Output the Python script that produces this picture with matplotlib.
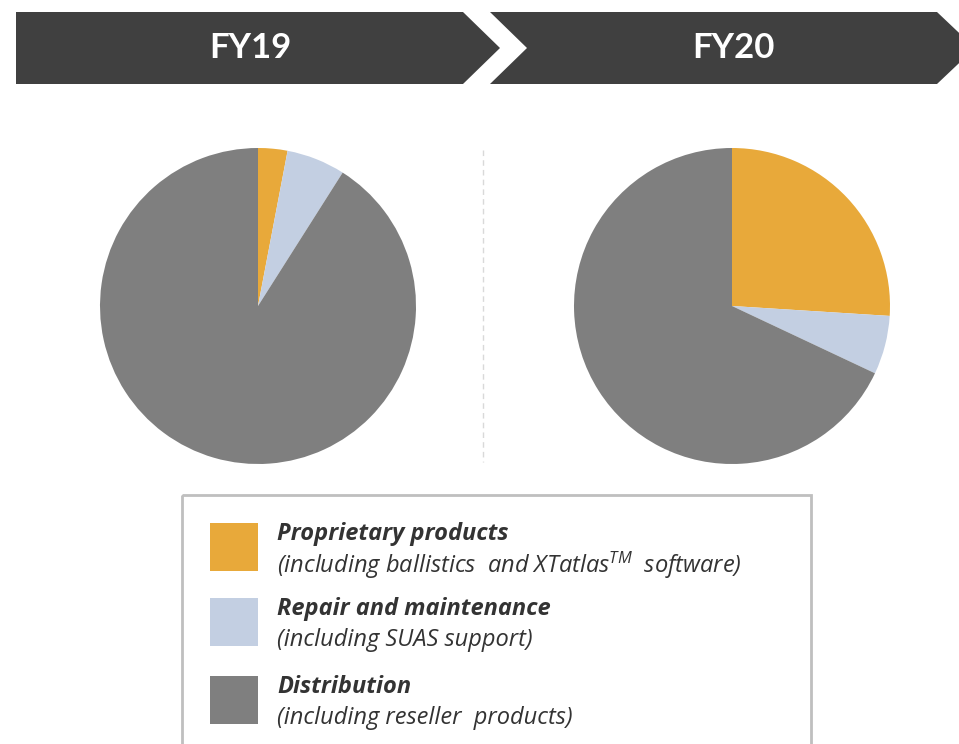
import matplotlib
matplotlib.use("Agg")
import matplotlib.pyplot as plt
from matplotlib.patches import Polygon, Rectangle

plt.rcParams['font.family'] = ['Lato', 'DejaVu Sans']
plt.rcParams['mathtext.fontset'] = 'custom'
plt.rcParams['mathtext.rm'] = 'Open Sans:italic'
plt.rcParams['mathtext.it'] = 'Open Sans:italic'

# data (share of revenue, %)
years = ["FY19", "FY20"]
segments = ["Proprietary products", "Repair and maintenance", "Distribution"]
notes = ["(including ballistics  and XTatlas$^{TM}$  software)",
         "(including SUAS support)",
         "(including reseller  products)"]
fy19 = [3, 6, 91]
fy20 = [26, 6, 68]
colors = ["#E8A93A", "#C3CFE2", "#7F7F7F"]

W, H = 959, 744
fig = plt.figure(figsize=(W / 100, H / 100), dpi=100)

# background axes in pixel coordinates
bg = fig.add_axes([0, 0, 1, 1])
bg.set_xlim(0, W)
bg.set_ylim(H, 0)
bg.axis("off")

# header chevrons
dark = "#404040"
bg.add_patch(Polygon([(16, 12), (463, 12), (500, 48), (463, 84), (16, 84)],
                     closed=True, color=dark, lw=0))
bg.add_patch(Polygon([(490, 12), (937, 12), (975, 48), (937, 84), (490, 84), (527, 48)],
                     closed=True, color=dark, lw=0))
bg.text(250, 48, years[0], color="white", fontsize=25, fontweight="bold",
        ha="center", va="center")
bg.text(733, 48, years[1], color="white", fontsize=25, fontweight="bold",
        ha="center", va="center")

# dashed divider
bg.plot([483, 483], [150, 462], color="#D9D9D9", lw=1, ls=(0, (4, 3)))

# pies
def pie_axes(cx, cy, r):
    return fig.add_axes([(cx - r) / W, (H - cy - r) / H, 2 * r / W, 2 * r / H])

for vals, cx in [(fy19, 258), (fy20, 732)]:
    ax = pie_axes(cx, 306, 158)
    ax.pie(vals, colors=colors, startangle=90, counterclock=False,
           wedgeprops=dict(linewidth=0))
    ax.set_xlim(-1, 1)
    ax.set_ylim(-1, 1)
    ax.set_aspect("equal")
    ax.axis("off")

# legend box
bg.add_patch(Rectangle((182, 495), 629, 260, fill=False, edgecolor="#BFBFBF", lw=2))
txt = "#333333"
for i, (name, note, c) in enumerate(zip(segments, notes, colors)):
    y0 = [523, 598, 676][i]
    bg.add_patch(Rectangle((210, y0), 48, 48, color=c, lw=0))
    bg.text(277, y0 + 11, name, color=txt, fontsize=17, fontweight="bold",
            style="italic", family="Open Sans", ha="left", va="center")
    bg.text(277, y0 + 42, note, color=txt, fontsize=17, family="Open Sans",
            style="italic", ha="left", va="center")

fig.savefig("out.png", dpi=100)
